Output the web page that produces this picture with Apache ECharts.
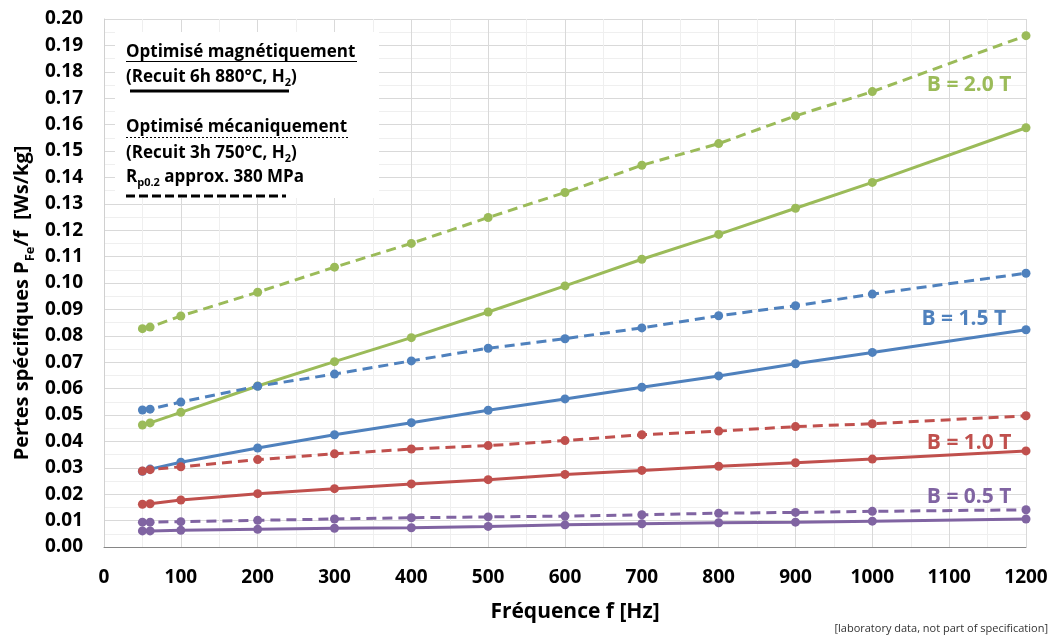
<!DOCTYPE html>
<html>
<head>
<meta charset="utf-8">
<script src="https://cdn.jsdelivr.net/npm/echarts@6/dist/echarts.min.js"></script>
<style>
html,body{margin:0;padding:0;background:#fff;}
#chart{width:1055px;height:636px;}
</style>
</head>
<body>
<div id="chart"></div>
<script>
// ---- data ----
const freq = [50, 60, 100, 200, 300, 400, 500, 600, 700, 800, 900, 1000, 1200];

const b20Meca = [0.0827, 0.0833, 0.0875, 0.0965, 0.1060, 0.1150, 0.1248, 0.1343, 0.1446, 0.1528, 0.1633, 0.1725, 0.1937];
const b20Magn = [0.0462, 0.0470, 0.0510, 0.0610, 0.0702, 0.0793, 0.0890, 0.0989, 0.1090, 0.1184, 0.1283, 0.1381, 0.1588];
const b15Meca = [0.0519, 0.0522, 0.0549, 0.0609, 0.0655, 0.0705, 0.0753, 0.0789, 0.0830, 0.0876, 0.0914, 0.0958, 0.1037];
const b15Magn = [0.0287, 0.0295, 0.0321, 0.0375, 0.0425, 0.0471, 0.0518, 0.0561, 0.0605, 0.0648, 0.0694, 0.0737, 0.0823];
const b10Meca = [0.0288, 0.0293, 0.0304, 0.0331, 0.0353, 0.0371, 0.0384, 0.0403, 0.0425, 0.0439, 0.0456, 0.0467, 0.0497];
const b10Magn = [0.0162, 0.0164, 0.0178, 0.0202, 0.0221, 0.0239, 0.0255, 0.0275, 0.0290, 0.0306, 0.0319, 0.0333, 0.0364];
const b05Meca = [0.0094, 0.0094, 0.0096, 0.0101, 0.0106, 0.0111, 0.0114, 0.0117, 0.0122, 0.0128, 0.0131, 0.0135, 0.0141];
const b05Magn = [0.0061, 0.0061, 0.0063, 0.0067, 0.0071, 0.0073, 0.0078, 0.0084, 0.0088, 0.0092, 0.0094, 0.0098, 0.0106];

const curveLabels = ['B = 2.0 T', 'B = 1.5 T', 'B = 1.0 T', 'B = 0.5 T'];
const curveLabelX = [1126, 1119, 1126, 1126];
const curveLabelY = [0.1750, 0.0864, 0.0394, 0.0189];

const colors = ['#9BBB59', '#4F81BD', '#C0504D', '#8064A2'];

const xTitle = 'Fréquence f [Hz]';
const footnote = '[laboratory data, not part of specification]';

// ---- chart ----
const FONT = '"Open Sans", "Liberation Sans", sans-serif';
const chart = echarts.init(document.getElementById('chart'), null, {renderer: 'canvas'});

function pairs(ys) { return freq.map((x, i) => [x, ys[i]]); }

function mkSeries(name, ys, colorIdx, dashed, labelIdx) {
  const s = {
    name: name,
    type: 'line',
    data: pairs(ys),
    symbol: 'circle',
    symbolSize: 9,
    showSymbol: true,
    z: 3,
    itemStyle: {color: colors[colorIdx]},
    lineStyle: {color: colors[colorIdx], width: 3, type: dashed ? [10, 6] : 'solid'},
    animation: false
  };
  if (labelIdx !== undefined) {
    s.markPoint = {
      symbol: 'circle',
      symbolSize: 0,
      silent: true,
      data: [{
        coord: [curveLabelX[labelIdx], curveLabelY[labelIdx]],
        label: {
          show: true, position: 'inside', formatter: curveLabels[labelIdx],
          color: colors[colorIdx], fontFamily: FONT, fontWeight: 'bold', fontSize: 21
        }
      }]
    };
  }
  return s;
}

const series = [
  mkSeries('2.0 méca', b20Meca, 0, true, 0),
  mkSeries('2.0 magn', b20Magn, 0, false),
  mkSeries('1.5 méca', b15Meca, 1, true, 1),
  mkSeries('1.5 magn', b15Magn, 1, false),
  mkSeries('1.0 méca', b10Meca, 2, true, 2),
  mkSeries('1.0 magn', b10Magn, 2, false),
  mkSeries('0.5 méca', b05Meca, 3, true, 3),
  mkSeries('0.5 magn', b05Magn, 3, false)
];

const legendRich = {
  a: {fontFamily: FONT, fontWeight: 'bold', fontSize: 17, fill: '#000', lineHeight: 22, verticalAlign: 'middle'},
  s: {fontFamily: FONT, fontWeight: 'bold', fontSize: 11, fill: '#000', lineHeight: 22, verticalAlign: 'bottom'}
};

const option = {
  backgroundColor: '#fff',
  animation: false,
  grid: {left: 104, right: 29, top: 19, bottom: 89, containLabel: false},
  xAxis: {
    type: 'value', min: 0, max: 1200, interval: 100,
    axisLine: {show: true, onZero: false, lineStyle: {color: '#868686', width: 1}},
    axisTick: {show: false},
    axisLabel: {fontFamily: FONT, fontWeight: 'bold', fontSize: 19, color: '#000', margin: 21,
      formatter: v => String(v)},
    splitLine: {show: true, lineStyle: {color: '#d9d9d9', width: 1}},
    minorTick: {show: false, splitNumber: 2},
    minorSplitLine: {show: true, lineStyle: {color: '#efefef', width: 1}}
  },
  yAxis: {
    type: 'value', min: 0, max: 0.2, interval: 0.01,
    axisLine: {show: true, lineStyle: {color: '#d0d0d0', width: 1}},
    axisTick: {show: false},
    axisLabel: {fontFamily: FONT, fontWeight: 'bold', fontSize: 19, color: '#000', margin: 21,
      formatter: v => v.toFixed(2)},
    splitLine: {show: true, lineStyle: {color: '#d9d9d9', width: 1}},
    minorTick: {show: false, splitNumber: 2},
    minorSplitLine: {show: true, lineStyle: {color: '#efefef', width: 1}}
  },
  series: series,
  graphic: [
    // legend box
    {type: 'rect', left: 115, top: 32, shape: {width: 264, height: 166}, style: {fill: '#fff'}, z: 1, silent: true},
    {type: 'text', x: 126, y: 52, z: 5, style: {text: 'Optimisé magnétiquement', font: 'bold 17px ' + FONT, fill: '#000', verticalAlign: 'middle'}},
    {type: 'line', z: 5, shape: {x1: 126, y1: 61.5, x2: 357, y2: 61.5}, style: {stroke: '#000', lineWidth: 1}},
    {type: 'text', x: 126, y: 77, z: 5, style: {text: '{a|(Recuit 6h 880°C, H}{s|2}{a|)}', rich: legendRich, verticalAlign: 'middle'}},
    {type: 'line', z: 5, shape: {x1: 130, y1: 91, x2: 289, y2: 91}, style: {stroke: '#000', lineWidth: 3}},
    {type: 'text', x: 126, y: 127, z: 5, style: {text: 'Optimisé mécaniquement', font: 'bold 17px ' + FONT, fill: '#000', verticalAlign: 'middle'}},
    {type: 'line', z: 5, shape: {x1: 126, y1: 137.5, x2: 348, y2: 137.5}, style: {stroke: '#000', lineWidth: 1, lineDash: [2, 2]}},
    {type: 'text', x: 126, y: 153, z: 5, style: {text: '{a|(Recuit 3h 750°C, H}{s|2}{a|)}', rich: legendRich, verticalAlign: 'middle'}},
    {type: 'text', x: 126, y: 177, z: 5, style: {text: '{a|R}{s|p0.2}{a| approx. 380 MPa}', rich: legendRich, verticalAlign: 'middle'}},
    {type: 'line', z: 5, shape: {x1: 126, y1: 196, x2: 286, y2: 196}, style: {stroke: '#000', lineWidth: 3, lineDash: [9, 4]}},
    // axis titles
    {type: 'text', x: 22, y: 303, rotation: Math.PI / 2, z: 5,
      style: {text: '{a|Pertes spécifiques P}{s|Fe}{a|/f  [Ws/kg]}', align: 'center', verticalAlign: 'middle',
        rich: {
          a: {fontFamily: FONT, fontWeight: 'bold', fontSize: 20, fill: '#000', lineHeight: 30, verticalAlign: 'middle'},
          s: {fontFamily: FONT, fontWeight: 'bold', fontSize: 13, fill: '#000', lineHeight: 30, verticalAlign: 'bottom'}
        }}},
    {type: 'text', x: 575, y: 612, z: 5, style: {text: xTitle, font: 'bold 21px ' + FONT, fill: '#000', align: 'center', verticalAlign: 'middle'}},
    {type: 'text', x: 1048, y: 629, z: 5, style: {text: footnote, font: '11px ' + FONT, fill: '#333', align: 'right', verticalAlign: 'middle'}}
  ]
};
chart.setOption(option);
</script>
</body>
</html>
